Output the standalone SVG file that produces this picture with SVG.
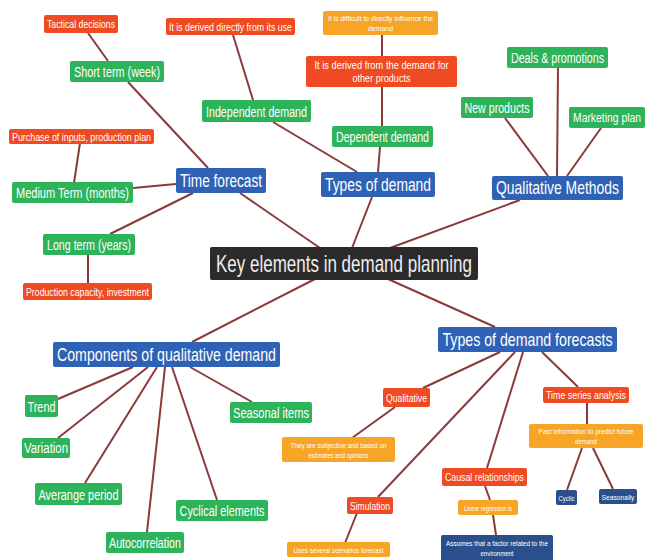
<svg xmlns="http://www.w3.org/2000/svg" width="649" height="560" viewBox="0 0 649 560">
<style>
.g{fill:#2db35a}.r{fill:#f04a22}.o{fill:#f6a526}.b{fill:#2f62b5}.n{fill:#2b4f8c}.k{fill:#2b2b2b}
text{fill:#fff;font-family:"Liberation Sans",Arial,sans-serif;text-anchor:middle}
.s17{font-size:18px}.s13{font-size:14px}.s10{font-size:11px}.s7{font-size:7.5px}
#conn line{stroke:#8b3a3a;stroke-width:2}
</style>
<rect width="649" height="560" fill="#fff"/>
<g id="conn">
<line x1="88" y1="33" x2="108" y2="61"/>
<line x1="128" y1="82" x2="208" y2="168"/>
<line x1="80" y1="143" x2="74" y2="183"/>
<line x1="133" y1="188" x2="176" y2="184"/>
<line x1="110" y1="234" x2="193" y2="193"/>
<line x1="88" y1="255" x2="88" y2="283"/>
<line x1="240" y1="193" x2="320" y2="248"/>
<line x1="372" y1="197" x2="352" y2="248"/>
<line x1="520" y1="200" x2="390" y2="248"/>
<line x1="273" y1="122" x2="357" y2="172"/>
<line x1="253" y1="100" x2="233" y2="35"/>
<line x1="382" y1="126" x2="382" y2="86"/>
<line x1="382" y1="56" x2="382" y2="35"/>
<line x1="380" y1="147" x2="378" y2="172"/>
<line x1="505" y1="118" x2="548" y2="176"/>
<line x1="558" y1="68" x2="557" y2="176"/>
<line x1="601" y1="128" x2="567" y2="176"/>
<line x1="315" y1="279" x2="192" y2="342"/>
<line x1="388" y1="279" x2="495" y2="327"/>
<line x1="133" y1="367" x2="58" y2="399"/>
<line x1="148" y1="367" x2="58" y2="438"/>
<line x1="157" y1="367" x2="85" y2="483"/>
<line x1="165" y1="367" x2="147" y2="532"/>
<line x1="172" y1="367" x2="217" y2="500"/>
<line x1="190" y1="367" x2="252" y2="402"/>
<line x1="500" y1="352" x2="423" y2="388"/>
<line x1="395" y1="407" x2="352" y2="438"/>
<line x1="515" y1="352" x2="378" y2="497"/>
<line x1="357" y1="513" x2="345" y2="543"/>
<line x1="523" y1="352" x2="487" y2="468"/>
<line x1="485" y1="486" x2="490" y2="500"/>
<line x1="493" y1="515" x2="496" y2="535"/>
<line x1="542" y1="352" x2="578" y2="387"/>
<line x1="587" y1="403" x2="587" y2="424"/>
<line x1="582" y1="448" x2="567" y2="490"/>
<line x1="593" y1="448" x2="613" y2="489"/>
</g>
<g id="tactical"><rect class="r" x="44" y="15" width="74" height="18" rx="2"/><text class="s10" x="81" y="28" textLength="68" lengthAdjust="spacingAndGlyphs">Tactical decisions</text></g>
<g id="short"><rect class="g" x="70" y="61" width="94" height="21" rx="2"/><text class="s13" x="117" y="76.5" textLength="86" lengthAdjust="spacingAndGlyphs">Short term (week)</text></g>
<g id="purchase"><rect class="r" x="9" y="129" width="145" height="15" rx="2"/><text class="s10" x="81.5" y="140.5" textLength="139" lengthAdjust="spacingAndGlyphs">Purchase of inputs, production plan</text></g>
<g id="medium"><rect class="g" x="12" y="182" width="121" height="21" rx="2"/><text class="s13" x="72.5" y="197.5" textLength="113" lengthAdjust="spacingAndGlyphs">Medium Term (months)</text></g>
<g id="timeforecast"><rect class="b" x="176" y="168" width="90" height="25" rx="2"/><text class="s17" x="221" y="187" textLength="82" lengthAdjust="spacingAndGlyphs">Time forecast</text></g>
<g id="long"><rect class="g" x="43" y="234" width="92" height="21" rx="2"/><text class="s13" x="89" y="249.5" textLength="84" lengthAdjust="spacingAndGlyphs">Long term (years)</text></g>
<g id="prodcap"><rect class="r" x="23" y="283" width="129" height="17" rx="2"/><text class="s10" x="87.5" y="295.5" textLength="123" lengthAdjust="spacingAndGlyphs">Production capacity, investment</text></g>
<g id="deriveduse"><rect class="r" x="166" y="18" width="129" height="17" rx="2"/><text class="s10" x="230.5" y="30.5" textLength="123" lengthAdjust="spacingAndGlyphs">It is derived directly from its use</text></g>
<g id="difficult"><rect class="o" x="323" y="11" width="115" height="24" rx="2"/><text class="s7" x="380.5" y="21" textLength="105" lengthAdjust="spacingAndGlyphs">It is difficult to directly influence the</text><text class="s7" x="380.5" y="31" textLength="25" lengthAdjust="spacingAndGlyphs">demand</text></g>
<g id="deriveddemand"><rect class="r" x="306" y="56" width="151" height="31" rx="2"/><text style="font-size:11px" x="381.5" y="69" textLength="134" lengthAdjust="spacingAndGlyphs">It is derived from the demand for</text><text style="font-size:11px" x="381.5" y="81.5" textLength="58" lengthAdjust="spacingAndGlyphs">other products</text></g>
<g id="independent"><rect class="g" x="202" y="100" width="109" height="22" rx="2"/><text class="s13" x="256.5" y="116.5" textLength="101" lengthAdjust="spacingAndGlyphs">Independent demand</text></g>
<g id="dependent"><rect class="g" x="332" y="126" width="101" height="21" rx="2"/><text class="s13" x="382.5" y="141.5" textLength="93" lengthAdjust="spacingAndGlyphs">Dependent demand</text></g>
<g id="typesdemand"><rect class="b" x="321" y="172" width="114" height="25" rx="2"/><text class="s17" x="378" y="191" textLength="106" lengthAdjust="spacingAndGlyphs">Types of demand</text></g>
<g id="deals"><rect class="g" x="507" y="47" width="101" height="21" rx="2"/><text class="s13" x="557.5" y="62.5" textLength="93" lengthAdjust="spacingAndGlyphs">Deals &amp; promotions</text></g>
<g id="newprod"><rect class="g" x="461" y="97" width="72" height="21" rx="2"/><text class="s13" x="497" y="112.5" textLength="65" lengthAdjust="spacingAndGlyphs">New products</text></g>
<g id="marketing"><rect class="g" x="569" y="107" width="76" height="21" rx="2"/><text style="font-size:12.5px" transform="translate(607 122) scale(0.83 1)">Marketing plan</text></g>
<g id="qualmethods"><rect class="b" x="492" y="176" width="131" height="24" rx="2"/><text class="s17" transform="translate(557.5 194) scale(0.774 1)">Qualitative Methods</text></g>
<g id="key"><rect class="k" x="210" y="247" width="268" height="33" rx="2"/><text style="font-size:24px;fill:#eee" x="344" y="272" textLength="256" lengthAdjust="spacingAndGlyphs">Key elements in demand planning</text></g>
<g id="components"><rect class="b" x="53" y="342" width="227" height="25" rx="2"/><text class="s17" x="166.5" y="361" textLength="219" lengthAdjust="spacingAndGlyphs">Components of qualitative demand</text></g>
<g id="trend"><rect class="g" x="25" y="395" width="33" height="22" rx="2"/><text class="s13" x="41.5" y="411.5" textLength="28" lengthAdjust="spacingAndGlyphs">Trend</text></g>
<g id="variation"><rect class="g" x="22" y="438" width="48" height="20" rx="2"/><text class="s13" x="46" y="453" textLength="44" lengthAdjust="spacingAndGlyphs">Variation</text></g>
<g id="averange"><rect class="g" x="35" y="483" width="87" height="22" rx="2"/><text class="s13" x="78.5" y="499.5" textLength="80" lengthAdjust="spacingAndGlyphs">Averange period</text></g>
<g id="autocorr"><rect class="g" x="106" y="532" width="78" height="21" rx="2"/><text class="s13" x="145" y="547.5" textLength="72" lengthAdjust="spacingAndGlyphs">Autocorrelation</text></g>
<g id="cyclical"><rect class="g" x="176" y="500" width="92" height="21" rx="2"/><text class="s13" x="222" y="515.5" textLength="85" lengthAdjust="spacingAndGlyphs">Cyclical elements</text></g>
<g id="seasonal"><rect class="g" x="230" y="402" width="82" height="21" rx="2"/><text class="s13" x="271" y="417.5" textLength="76" lengthAdjust="spacingAndGlyphs">Seasonal items</text></g>
<g id="tdf"><rect class="b" x="438" y="327" width="179" height="25" rx="2"/><text class="s17" transform="translate(527.5 346) scale(0.788 1)">Types of demand forecasts</text></g>
<g id="qualitative"><rect class="r" x="383" y="388" width="47" height="19" rx="2"/><text style="font-size:10.5px" x="406.5" y="401.5" textLength="41" lengthAdjust="spacingAndGlyphs">Qualitative</text></g>
<g id="timeseries"><rect class="r" x="543" y="387" width="86" height="16" rx="2"/><text style="font-size:10.5px" x="586" y="399" textLength="80" lengthAdjust="spacingAndGlyphs">Time series analysis</text></g>
<g id="past"><rect class="o" x="529" y="424" width="114" height="24" rx="2"/><text class="s7" x="586" y="434" textLength="95" lengthAdjust="spacingAndGlyphs">Past information to predict future</text><text class="s7" x="586" y="444" textLength="22" lengthAdjust="spacingAndGlyphs">demand</text></g>
<g id="causal"><rect class="r" x="442" y="468" width="85" height="18" rx="2"/><text style="font-size:10.5px" x="484.5" y="481" textLength="79" lengthAdjust="spacingAndGlyphs">Causal relationships</text></g>
<g id="cyclic"><rect class="n" x="556" y="490" width="21" height="15" rx="2"/><text style="font-size:7px" x="566.5" y="500.5" textLength="16" lengthAdjust="spacingAndGlyphs">Cyclic</text></g>
<g id="seasonally"><rect class="n" x="599" y="489" width="38" height="15" rx="2"/><text style="font-size:7px" x="618" y="499.5" textLength="33" lengthAdjust="spacingAndGlyphs">Seasonally</text></g>
<g id="linear"><rect class="o" x="458" y="500" width="60" height="15" rx="2"/><text style="font-size:7px" x="488" y="510.5" textLength="48" lengthAdjust="spacingAndGlyphs">Linear regression is</text></g>
<g id="simulation"><rect class="r" x="347" y="497" width="46" height="17" rx="2"/><text style="font-size:10.5px" x="370" y="509.5" textLength="40" lengthAdjust="spacingAndGlyphs">Simulation</text></g>
<g id="assumes"><rect class="n" x="441" y="535" width="112" height="26" rx="2"/><text class="s7" x="497" y="545.5" textLength="102" lengthAdjust="spacingAndGlyphs">Assumes that a factor related to the</text><text class="s7" x="497" y="555.5" textLength="33" lengthAdjust="spacingAndGlyphs">environment</text></g>
<g id="subjective"><rect class="o" x="282" y="437" width="113" height="25" rx="2"/><text class="s7" x="338.5" y="447.5" textLength="96" lengthAdjust="spacingAndGlyphs">They are subjective and based on</text><text class="s7" x="338.5" y="457.5" textLength="60" lengthAdjust="spacingAndGlyphs">estimates and opinions</text></g>
<g id="uses"><rect class="o" x="287" y="542" width="103" height="15" rx="2"/><text class="s7" x="338.5" y="552.5" textLength="90" lengthAdjust="spacingAndGlyphs">Uses several scenarios forecast</text></g>
</svg>
